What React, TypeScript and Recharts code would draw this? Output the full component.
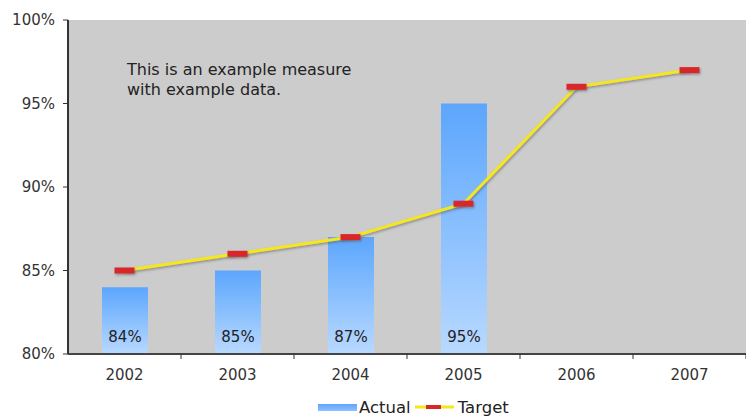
import React from 'react';
import {
  ComposedChart,
  Bar,
  Line,
  XAxis,
  YAxis,
  LabelList,
} from 'recharts';

const years = ['2002', '2003', '2004', '2005', '2006', '2007'];
const actual = [84, 85, 87, 95, null, null];
const target = [85, 86, 87, 89, 96, 97];
const yTicks = [80, 85, 90, 95, 100];

const data = years.map((year, i) => ({ year, actual: actual[i], target: target[i] }));

const FONT = '"DejaVu Sans", Verdana, sans-serif';

if (typeof document !== 'undefined') {
  document.body.style.margin = '0';
}

const YearTick = (props: any) => {
  const { x, y, payload } = props;
  const half = payload && payload.offset ? payload.offset : 56.5;
  return (
    <g>
      <line x1={x + half} x2={x + half} y1={y} y2={y + 5} stroke="#333" strokeWidth={1} />
      <text x={x} y={y + 26} textAnchor="middle" fill="#333" fontSize={15} fontFamily={FONT}>
        {payload.value}
      </text>
    </g>
  );
};

const TargetDot = (props: any) => {
  const { cx, cy } = props;
  if (cx == null || cy == null) return null;
  return (
    <rect x={cx - 10} y={cy - 3} width={20} height={6} fill="#d8262b" filter="url(#dropShadow)" />
  );
};

const BarValue = (props: any) => {
  const { x, y, width, height, value } = props;
  if (value == null) return null;
  return (
    <text
      x={x + width / 2}
      y={y + height - 12}
      textAnchor="middle"
      fill="#222"
      fontSize={15}
      fontFamily={FONT}
    >
      {value}%
    </text>
  );
};

export default function App() {
  return (
    <div style={{ position: 'relative', width: 746, height: 417, background: '#fff', fontFamily: FONT }}>
      <ComposedChart
        width={746}
        height={417}
        data={data}
        margin={{ top: 20, right: 0, left: 0, bottom: 33 }}
      >
        <defs>
          <linearGradient id="actualGradient" x1="0" y1="0" x2="0" y2="1">
            <stop offset="0%" stopColor="#5ca6fd" />
            <stop offset="100%" stopColor="#b8d9ff" />
          </linearGradient>
          <filter id="dropShadow" x="-20%" y="-50%" width="140%" height="250%">
            <feDropShadow dx="1" dy="1.5" stdDeviation="0.8" floodColor="#555" floodOpacity="0.55" />
          </filter>
        </defs>
        <rect x={68} y={20} width={678} height={334} fill="#cccccc" />
        <XAxis
          dataKey="year"
          height={30}
          tickLine={false}
          tickSize={0}
          tickMargin={0}
          axisLine={{ stroke: '#444', strokeWidth: 2 }}
          tick={<YearTick />}
          interval={0}
        />
        <YAxis
          width={68}
          domain={[80, 100]}
          ticks={yTicks}
          tickFormatter={(v: number) => `${v}%`}
          tick={{ fill: '#333', fontSize: 15, fontFamily: FONT }}
          tickSize={5}
          tickMargin={8}
          tickLine={{ stroke: '#333' }}
          axisLine={{ stroke: '#333', strokeWidth: 2 }}
          allowDataOverflow
        />
        <Bar dataKey="actual" barSize={46} fill="url(#actualGradient)" isAnimationActive={false}>
          <LabelList dataKey="actual" content={<BarValue />} />
        </Bar>
        <Line
          type="linear"
          dataKey="target"
          stroke="#f5e71c"
          strokeWidth={3}
          filter="url(#dropShadow)"
          dot={<TargetDot />}
          activeDot={false}
          isAnimationActive={false}
        />
      </ComposedChart>
      <div
        style={{
          position: 'absolute',
          left: 127,
          top: 60,
          fontSize: 16,
          lineHeight: '20px',
          color: '#222',
        }}
      >
        This is an example measure
        <br />
        with example data.
      </div>
      <div
        style={{
          position: 'absolute',
          left: 318,
          top: 397,
          height: 20,
          display: 'flex',
          alignItems: 'center',
          fontSize: 16.5,
          color: '#222',
          whiteSpace: 'nowrap',
        }}
      >
        <span
          style={{
            display: 'inline-block',
            width: 39,
            height: 7,
            background: 'linear-gradient(#5ca6fd, #8fc2ff)',
            marginRight: 2,
          }}
        />
        <span>Actual</span>
        <svg width={39} height={10} style={{ margin: '0 4px' }}>
          <line x1={0} x2={39} y1={5} y2={5} stroke="#f5e71c" strokeWidth={3} />
          <rect x={11} y={3} width={15} height={4} fill="#d8262b" />
        </svg>
        <span>Target</span>
      </div>
    </div>
  );
}
